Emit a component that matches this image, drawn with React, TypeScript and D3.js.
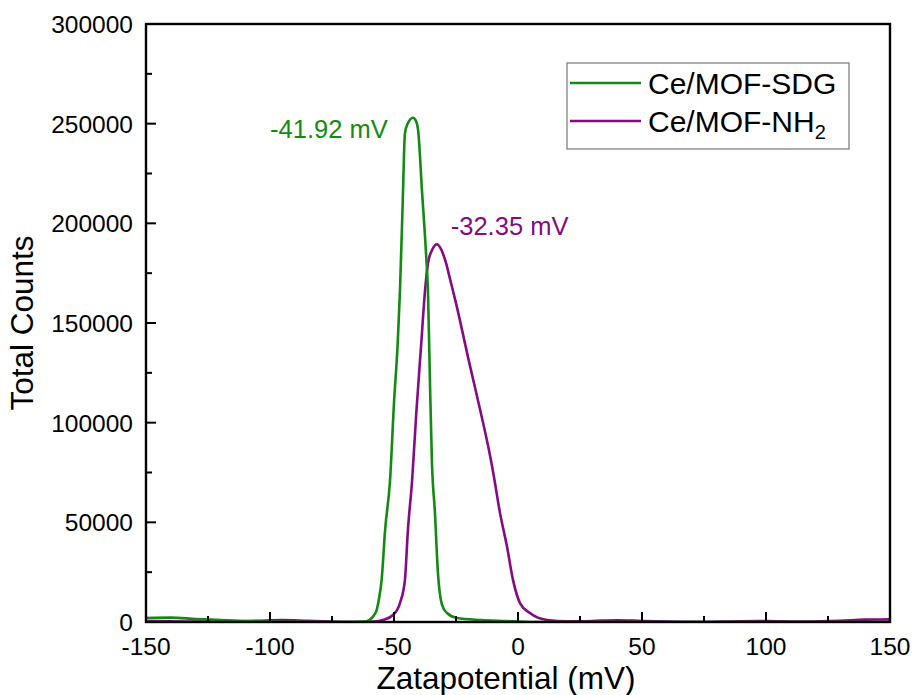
import React from 'react';
import * as d3 from 'd3';

// zeta potential distribution
const sdgPoints: [number, number][] = [
	[-150, 2000], [-140, 2200], [-130, 1500], [-120, 1000], [-110, 500], [-100, 200],
	[-90, 100], [-80, 0], [-70, 0], [-62, 200], [-60, 1000], [-58, 3500], [-57, 6000],
	[-56, 12000], [-55, 21000], [-53.6, 46000], [-51.6, 71000], [-50, 110000],
	[-48.5, 140000], [-47.6, 166000], [-46.5, 210000], [-45.6, 245000], [-44.5, 250000],
	[-42.3, 253000], [-41, 251000], [-40.3, 247000], [-38.7, 216000], [-37, 183000],
	[-36.3, 166000], [-35.5, 120000], [-34.7, 80000], [-33.5, 55000], [-32.3, 25000],
	[-30.6, 8500], [-28.6, 4500], [-24.6, 2000], [-15, 1000], [-5, 500], [5, 0],
	[50, 0], [100, 0], [150, 0]
];

const nh2Points: [number, number][] = [
	[-150, 500], [-140, 300], [-120, 200], [-105, 600], [-95, 1000], [-85, 600],
	[-75, 200], [-65, 0], [-58, 200], [-54.4, 1000], [-50.4, 3500], [-47.6, 9500],
	[-45.6, 21000], [-44.4, 46000], [-42.7, 71000], [-41, 105000], [-39, 140000],
	[-37.5, 166000], [-36.3, 180000], [-34.5, 187000], [-32.7, 189500], [-31, 187000],
	[-29, 180000], [-27.4, 172000], [-25, 160000], [-20, 132000], [-15, 105000],
	[-12, 88000], [-10, 75000], [-7.3, 55000], [-4.4, 37600], [-2, 21000], [0.8, 9500],
	[4.8, 4500], [11.7, 1000], [20, 300], [30, 500], [40, 900], [50, 500], [70, 100],
	[90, 400], [100, 500], [115, 200], [130, 600], [140, 1200], [150, 1300]
];

const xMajor = [-150, -100, -50, 0, 50, 100, 150];
const xMinor = [-125, -75, -25, 25, 75, 125];
const yMajor = [0, 50000, 100000, 150000, 200000, 250000, 300000];
const yMinor = [25000, 75000, 125000, 175000, 225000, 275000];

const peaks = [
	{ label: '-41.92 mV', x: -41.92, y: 253000, color: '#138a13', dx: -144, dy: 20 },
	{ label: '-32.35 mV', x: -32.35, y: 189500, color: '#850a85', dx: 13, dy: -9 }
];

const width = 916;
const height = 695;
const margin = { left: 146, right: 26, top: 24, bottom: 73 };
const font = 'Arial, "Liberation Sans", sans-serif';

const green = '#138a13';
const purple = '#850a85';

export default function App() {
	const x = d3.scaleLinear().domain([-150, 150]).range([margin.left, width - margin.right]);
	const y = d3.scaleLinear().domain([0, 300000]).range([height - margin.bottom, margin.top]);

	const line = d3.line<[number, number]>()
		.x(d => x(d[0]))
		.y(d => y(d[1]))
		.curve(d3.curveMonotoneX);

	const x0 = x(-150), x1 = x(150), y0 = y(0), y1 = y(300000);

	return (
		<>
			<style>{'body{margin:0}'}</style>
			<svg width={width} height={height} style={{ display: 'block', background: '#fff' }} fontFamily={font}>
				<defs>
					<clipPath id="plot">
						<rect x={x0} y={y1} width={x1 - x0} height={y0 - y1} />
					</clipPath>
				</defs>

				<g clipPath="url(#plot)" fill="none" strokeWidth={2.6} strokeLinejoin="round">
					<path d={line(nh2Points) || ''} stroke={purple} />
					<path d={line(sdgPoints) || ''} stroke={green} />
				</g>

				{/* ticks, inward */}
				<g stroke="#000" strokeWidth={2}>
					{xMajor.map(v => <line key={'xM' + v} x1={x(v)} x2={x(v)} y1={y0} y2={y0 - 10} />)}
					{xMinor.map(v => <line key={'xm' + v} x1={x(v)} x2={x(v)} y1={y0} y2={y0 - 6} />)}
					{yMajor.map(v => <line key={'yM' + v} x1={x0} x2={x0 + 10} y1={y(v)} y2={y(v)} />)}
					{yMinor.map(v => <line key={'ym' + v} x1={x0} x2={x0 + 6} y1={y(v)} y2={y(v)} />)}
				</g>
				<rect x={x0} y={y1} width={x1 - x0} height={y0 - y1} fill="none" stroke="#000" strokeWidth={2.4} />

				<g fontSize={24.5} fill="#000">
					{xMajor.map(v => (
						<text key={'xl' + v} x={x(v)} y={y0 + 33} textAnchor="middle">{v}</text>
					))}
					{yMajor.map(v => (
						<text key={'yl' + v} x={x0 - 13} y={y(v) + 9} textAnchor="end">{v}</text>
					))}
				</g>

				<text x={(x0 + x1) / 2 - 12} y={689} fontSize={31.5} textAnchor="middle">Zatapotential (mV)</text>
				<text transform={`translate(33,${(y0 + y1) / 2})rotate(-90)`} fontSize={31.5} textAnchor="middle">Total Counts</text>

				{peaks.map(p => (
					<text key={p.label} x={x(p.x) + p.dx} y={y(p.y) + p.dy} fontSize={25.5} fill={p.color}>{p.label}</text>
				))}

				{/* legend */}
				<g>
					<rect x={567} y={63} width={282} height={86} fill="#fff" stroke="#777" strokeWidth={1.2} />
					<line x1={570} x2={641} y1={83} y2={83} stroke={green} strokeWidth={2.6} />
					<line x1={570} x2={641} y1={121} y2={121} stroke={purple} strokeWidth={2.6} />
					<text x={648} y={94} fontSize={30}>Ce/MOF-SDG</text>
					<text x={648} y={132} fontSize={30}>Ce/MOF-NH<tspan fontSize={20} dy={7}>2</tspan></text>
				</g>
			</svg>
		</>
	);
}
